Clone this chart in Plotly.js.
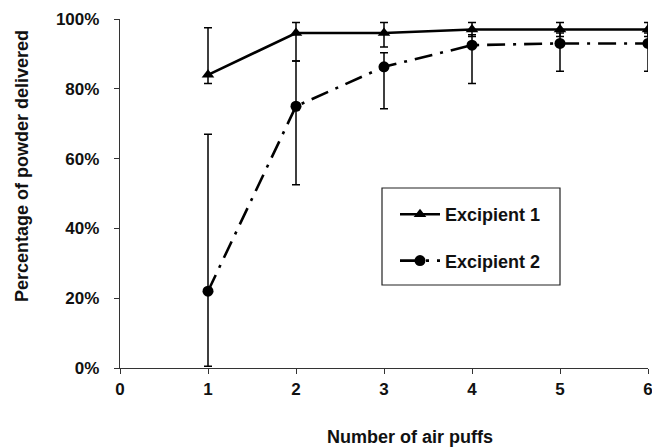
<!DOCTYPE html>
<html>
<head>
<meta charset="utf-8">
<script src="https://cdn.plot.ly/plotly-3.0.1.min.js"></script>
<style>html,body{margin:0;padding:0;overflow:hidden;background:#fff}#chart{width:652px;height:448px}</style>
</head>
<body>
<div id="chart"></div>
<script>
const puffs = [1, 2, 3, 4, 5, 6];
const excipient1 = [0.84, 0.96, 0.96, 0.97, 0.97, 0.97];
const excipient1Plus = [0.135, 0.03, 0.03, 0.02, 0.02, 0.02];
const excipient1Minus = [0.025, 0.08, 0.04, 0.02, 0.02, 0.02];
const excipient2 = [0.22, 0.75, 0.863, 0.925, 0.93, 0.93];
const excipient2Plus = [0.45, 0.13, 0.04, 0.03, 0.03, 0.03];
const excipient2Minus = [0.215, 0.225, 0.12, 0.11, 0.08, 0.08];
const xTicks = [0, 1, 2, 3, 4, 5, 6];
const yTicks = [0, 0.2, 0.4, 0.6, 0.8, 1.0];
const yTickLabels = ['0%', '20%', '40%', '60%', '80%', '100%'];
const xTitle = 'Number of air puffs';
const yTitle = 'Percentage of powder delivered';

const FAM = 'Liberation Sans, Arial, sans-serif';
const tickFont = {family: FAM, size: 17, color: '#111', weight: 'bold'};
const titleFont = {family: FAM, size: 18, color: '#111', weight: 'bold'};

const traces = [
  {
    x: puffs, y: excipient1, name: 'Excipient 1', type: 'scatter', mode: 'lines+markers',
    legendgroup: 'g1',
    line: {color: '#000', width: 2.6},
    marker: {symbol: 'triangle-up', size: 11, color: '#000'},
    error_y: {type: 'data', symmetric: false, array: excipient1Plus, arrayminus: excipient1Minus,
              color: '#000', thickness: 1.5, width: 4}
  },
  {
    x: puffs, y: excipient2, name: 'Excipient 2', type: 'scatter', mode: 'lines+markers',
    legendgroup: 'g2',
    line: {color: '#000', width: 2.6, dash: '18px,8px,3px,8px'},
    marker: {symbol: 'circle', size: 11, color: '#000'},
    error_y: {type: 'data', symmetric: false, array: excipient2Plus, arrayminus: excipient2Minus,
              color: '#000', thickness: 1.5, width: 4}
  }
];

const layout = {
  width: 652, height: 448,
  margin: {l: 120, r: 4, t: 19, b: 80},
  paper_bgcolor: '#fff', plot_bgcolor: '#fff',
  font: {family: FAM, size: 17, color: '#111'},
  showlegend: true,
  legend: {
    x: (395 - 120) / 528, y: (368 - 196) / 349, xanchor: 'left', yanchor: 'top',
    borderwidth: 0, bgcolor: 'rgba(0,0,0,0)',
    font: {family: FAM, size: 18, color: '#111', weight: 'bold'},
    itemwidth: 40, tracegroupgap: 20
  },
  shapes: [{
    type: 'rect', xref: 'paper', yref: 'paper',
    x0: (382 - 120) / 528, x1: (560 - 120) / 528,
    y0: (368 - 285) / 349, y1: (368 - 188) / 349,
    line: {color: '#222', width: 1.2}, fillcolor: 'rgba(0,0,0,0)', layer: 'above'
  }],
  annotations: [
    {text: xTitle, xref: 'paper', yref: 'paper', x: (410 - 120) / 528, y: (368 - 437) / 349,
     xanchor: 'center', yanchor: 'middle', showarrow: false, font: titleFont},
    {text: yTitle, xref: 'paper', yref: 'paper', x: (22 - 120) / 528, y: (368 - 166) / 349,
     xanchor: 'center', yanchor: 'middle', textangle: -90, showarrow: false, font: titleFont}
  ],
  xaxis: {
    range: [0, 6], tickvals: xTicks, ticktext: xTicks.map(String),
    showgrid: false, zeroline: false, showline: true, linecolor: '#333', linewidth: 1.2,
    ticks: 'outside', ticklen: 5, tickcolor: '#333', tickfont: tickFont,
    ticklabeloverflow: 'allow'
  },
  yaxis: {
    range: [0, 1.0], tickvals: yTicks, ticktext: yTickLabels,
    showgrid: false, zeroline: false, showline: true, linecolor: '#333', linewidth: 1.2,
    ticks: 'outside', ticklen: 5, tickcolor: '#333', tickfont: tickFont,
    ticklabelstandoff: 11
  }
};

Plotly.newPlot('chart', traces, layout, {displayModeBar: false, staticPlot: true});
</script>
</body>
</html>
